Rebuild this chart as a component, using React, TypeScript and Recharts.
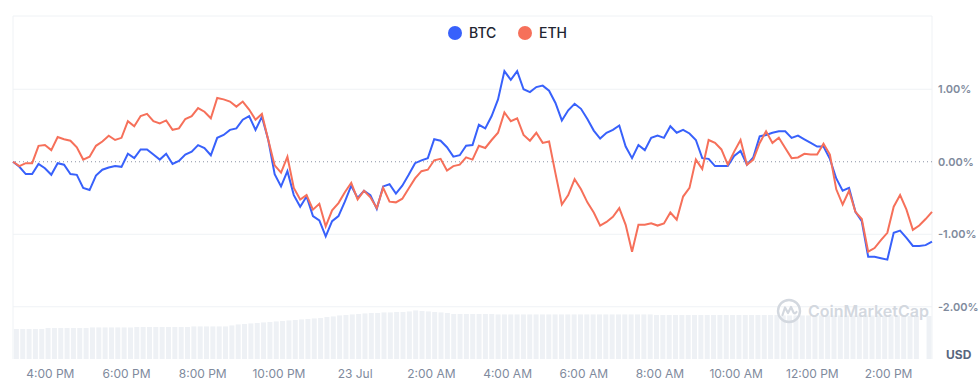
import React from "react";
import { ComposedChart, Line, Bar, XAxis, YAxis, ReferenceLine } from "recharts";

// 24h window, ~10 min steps, hours counted from midnight of 22 Jul
const T0 = 15.02;
const STEP = 0.1675;

const BTC = [
  0, -0.07, -0.17, -0.17, -0.03, -0.09, -0.18, -0.02, -0.04, -0.17,
  -0.18, -0.36, -0.39, -0.19, -0.11, -0.08, -0.06, -0.07, 0.11, 0.05,
  0.17, 0.17, 0.1, 0.03, 0.11, -0.03, 0.01, 0.1, 0.14, 0.23,
  0.19, 0.09, 0.33, 0.37, 0.44, 0.46, 0.58, 0.63, 0.44, 0.62,
  0.3, -0.17, -0.34, -0.13, -0.46, -0.62, -0.48, -0.75, -0.81, -1.03,
  -0.82, -0.75, -0.55, -0.33, -0.5, -0.4, -0.46, -0.65, -0.34, -0.31,
  -0.44, -0.33, -0.18, -0.02, 0.02, 0.05, 0.31, 0.29, 0.2, 0.07,
  0.09, 0.22, 0.23, 0.51, 0.46, 0.63, 0.86, 1.25, 1.13, 1.25,
  1.0, 0.96, 1.03, 1.05, 0.98, 0.81, 0.57, 0.71, 0.8, 0.73,
  0.59, 0.43, 0.32, 0.4, 0.44, 0.5, 0.21, 0.05, 0.23, 0.16,
  0.33, 0.36, 0.33, 0.49, 0.4, 0.44, 0.39, 0.3, 0.05, 0.04,
  -0.06, -0.06, -0.06, 0.08, 0.15, -0.04, 0.06, 0.35, 0.37, 0.4,
  0.42, 0.42, 0.33, 0.36, 0.31, 0.26, 0.21, 0.21, 0.04, -0.23,
  -0.4, -0.36, -0.69, -0.82, -1.31, -1.31, -1.33, -1.35, -0.98, -0.95,
  -1.05, -1.16, -1.16, -1.15, -1.1,
];

const ETH = [
  0, -0.06, -0.02, -0.02, 0.22, 0.23, 0.16, 0.34, 0.31, 0.29,
  0.2, 0.03, 0.07, 0.22, 0.28, 0.36, 0.3, 0.33, 0.56, 0.49,
  0.63, 0.66, 0.56, 0.53, 0.57, 0.44, 0.46, 0.59, 0.63, 0.74,
  0.69, 0.6, 0.88, 0.86, 0.83, 0.76, 0.83, 0.72, 0.58, 0.66,
  0.3, -0.05, -0.15, 0.07, -0.36, -0.52, -0.46, -0.66, -0.58, -0.89,
  -0.67, -0.57, -0.42, -0.29, -0.52, -0.4, -0.49, -0.64, -0.36, -0.55,
  -0.56, -0.51, -0.37, -0.23, -0.13, -0.11, 0.02, 0.04, -0.12, -0.06,
  -0.04, 0.06, 0.03, 0.22, 0.19, 0.3, 0.4, 0.68, 0.56, 0.6,
  0.37, 0.29, 0.4, 0.26, 0.28, -0.16, -0.59, -0.46, -0.24, -0.38,
  -0.56, -0.7, -0.88, -0.83, -0.76, -0.64, -0.87, -1.24, -0.87, -0.87,
  -0.85, -0.88, -0.85, -0.7, -0.8, -0.48, -0.36, 0.03, -0.1, 0.3,
  0.26, 0.17, -0.04, 0.14, 0.3, -0.04, 0.03, 0.26, 0.42, 0.26,
  0.33, 0.19, 0.05, 0.06, 0.11, 0.1, 0.1, 0.25, 0.1, -0.38,
  -0.59, -0.4, -0.69, -0.79, -1.24, -1.19, -1.08, -0.98, -0.62, -0.46,
  -0.66, -0.94, -0.88, -0.79, -0.69,
];

// 24h volume (USD bn)
const VOLUME = [
  21.0, 21.0, 21.0, 21.0, 21.0, 21.7, 21.7, 21.7, 21.7, 21.7,
  21.7, 21.7, 22.1, 22.1, 22.1, 22.1, 22.1, 22.1, 22.1, 22.4,
  22.4, 22.4, 22.4, 22.4, 22.4, 22.4, 22.4, 22.4, 22.8, 22.8,
  22.8, 22.8, 22.8, 22.8, 23.5, 24.2, 24.5, 24.9, 25.2, 25.6,
  25.9, 26.3, 26.6, 27.0, 27.3, 27.7, 28.0, 28.4, 28.7, 29.4,
  29.8, 30.5, 30.8, 31.2, 31.5, 31.9, 32.2, 32.2, 32.6, 32.6,
  32.9, 32.9, 33.3, 34.0, 33.6, 33.3, 32.9, 32.6, 32.2, 31.5,
  31.5, 31.5, 31.5, 31.5, 31.5, 31.5, 31.2, 31.2, 31.2, 31.2,
  31.2, 31.2, 31.2, 31.2, 31.2, 31.2, 31.2, 31.2, 31.2, 31.2,
  31.2, 31.2, 31.2, 31.2, 31.2, 31.2, 31.2, 31.2, 31.2, 31.2,
  31.2, 30.8, 30.8, 30.8, 30.8, 30.8, 30.8, 30.8, 30.8, 30.8,
  30.8, 30.8, 30.8, 30.8, 30.8, 30.8, 30.8, 30.8, 30.8, 30.8,
  30.8, 30.5, 30.5, 30.5, 30.5, 30.5, 30.5, 30.5, 30.5, 30.5,
  30.5, 30.5, 30.5, 30.5, 30.5, 30.5, 30.5, 30.5, 30.5, 30.5,
  30.5, 30.1, 30.1, 0, 30.1,
];

const TICK_HOURS = [16, 18, 20, 22, 24, 26, 28, 30, 32, 34, 36, 38];
const TICK_LABELS = [
  "4:00 PM", "6:00 PM", "8:00 PM", "10:00 PM", "23 Jul", "2:00 AM",
  "4:00 AM", "6:00 AM", "8:00 AM", "10:00 AM", "12:00 PM", "2:00 PM",
];
const PCT_TICKS = [1, 0, -1, -2];

const data = BTC.map((b, i) => ({
  t: T0 + i * STEP,
  idx: i,
  btc: b,
  eth: ETH[i],
  vol: VOLUME[i],
}));
const T_END = T0 + (BTC.length - 1) * STEP;
const PCT_MAX = 2.01;
const PCT_MIN = -2.72;

const FONT = "Inter, 'Noto Sans', sans-serif";
const BLUE = "#3861FB";
const ORANGE = "#F6705A";
const GRID = "#EFF2F5";

function LegendItem({ color, label, left }: { color: string; label: string; left: number }) {
  return (
    <div style={{ position: "absolute", left, top: 26, display: "flex", alignItems: "center" }}>
      <span style={{ width: 14, height: 14, borderRadius: 7, background: color, display: "inline-block" }} />
      <span style={{ marginLeft: 7, fontSize: 14, fontWeight: 500, color: "#222531", lineHeight: "14px" }}>{label}</span>
    </div>
  );
}

export default function App() {
  return (
    <div style={{ position: "absolute", left: 0, top: 0, width: 980, height: 390, fontFamily: FONT, background: "#fff" }}>
      <ComposedChart
        width={980}
        height={390}
        data={data}
        margin={{ top: 16, right: 0, bottom: 0, left: 13 }}
        barCategoryGap="14%"
      >
        <XAxis
          xAxisId="t"
          dataKey="t"
          type="number"
          domain={[T0, T_END]}
          ticks={TICK_HOURS}
          interval={0}
          tickFormatter={(v: number) => TICK_LABELS[TICK_HOURS.indexOf(v)]}
          axisLine={false}
          tickLine={false}
          tickMargin={4}
          height={31}
          tick={{ fill: "#808A9D", fontSize: 12, fontFamily: FONT }}
        />
        <XAxis xAxisId="vol" dataKey="idx" type="category" hide />
        <YAxis
          yAxisId="pct"
          orientation="right"
          width={48}
          domain={[PCT_MIN, PCT_MAX]}
          ticks={PCT_TICKS}
          interval={0}
          allowDataOverflow
          tickFormatter={(v: number) => v.toFixed(2) + "%"}
          axisLine={false}
          tickLine={false}
          tickMargin={0}
          tick={{ fill: "#808A9D", fontSize: 11, fontWeight: 600, fontFamily: FONT }}
        />
        <YAxis yAxisId="vol" hide domain={[0, 240.1]} />
        <Bar xAxisId="vol" yAxisId="vol" dataKey="vol" fill="#EEF1F5" isAnimationActive={false} />
        {[1, -1, -2, PCT_MAX].map((y) => (
          <ReferenceLine key={y} xAxisId="t" yAxisId="pct" y={y} stroke={GRID} strokeWidth={1} />
        ))}
        <ReferenceLine xAxisId="t" yAxisId="pct" x={T0} stroke={GRID} />
        <ReferenceLine xAxisId="t" yAxisId="pct" x={T_END} stroke={GRID} />
        <ReferenceLine xAxisId="t" yAxisId="pct" y={0} stroke="#8C93A6" strokeDasharray="1 3" />
        <Line
          xAxisId="t"
          yAxisId="pct"
          dataKey="btc"
          type="linear"
          stroke={BLUE}
          strokeWidth={2}
          dot={false}
          activeDot={false}
          isAnimationActive={false}
        />
        <Line
          xAxisId="t"
          yAxisId="pct"
          dataKey="eth"
          type="linear"
          stroke={ORANGE}
          strokeWidth={2}
          dot={false}
          activeDot={false}
          isAnimationActive={false}
        />
      </ComposedChart>

      <LegendItem color={BLUE} label="BTC" left={448} />
      <LegendItem color={ORANGE} label="ETH" left={518} />

      <div style={{ position: "absolute", left: 776, top: 298, display: "flex", alignItems: "center", pointerEvents: "none" }}>
        <svg width={26} height={26} viewBox="0 0 26 26">
          <circle cx={13} cy={13} r={11} fill="none" stroke="#D3D8DF" strokeWidth={2.4} />
          <path d="M6.5 17 L9 9.5 L12 15 L15 9 L17.5 14.5 Q19 16.5 20.5 14" fill="none" stroke="#D3D8DF" strokeWidth={2.2} strokeLinejoin="round" strokeLinecap="round" />
        </svg>
        <span style={{ marginLeft: 6, fontSize: 16, fontWeight: 600, color: "#D3D8DF" }}>CoinMarketCap</span>
      </div>

      <div style={{ position: "absolute", left: 946, top: 347, fontSize: 12, fontWeight: 700, color: "#58667E" }}>USD</div>
    </div>
  );
}
